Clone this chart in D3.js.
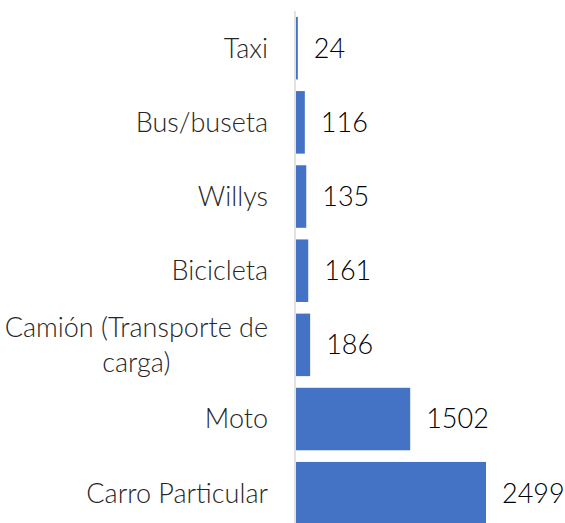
<!DOCTYPE html>
<html>
<head>
<meta charset="utf-8">
<script src="https://cdn.jsdelivr.net/npm/d3@7/dist/d3.min.js"></script>
<style>
  html, body { margin: 0; padding: 0; background: #ffffff; }
  svg { display: block; }
  text { font-family: Lato, "Liberation Sans", sans-serif; font-weight: 300; }
</style>
</head>
<body>
<svg id="chart" width="565" height="523"></svg>
<script>
// Vehículos por tipo (top to bottom)
const categories = ["Taxi", "Bus/buseta", "Willys", "Bicicleta", "Camión (Transporte de carga)", "Moto", "Carro Particular"];
const values = [24, 116, 135, 161, 186, 1502, 2499];
// Category names that wrap onto two lines
const labelLines = [["Taxi"], ["Bus/buseta"], ["Willys"], ["Bicicleta"], ["Camión (Transporte de", "carga)"], ["Moto"], ["Carro Particular"]];

const width = 565, height = 523;
const fontSize = 27;
const barColor = "#4472C4";

const svg = d3.select("#chart");

const x = d3.scaleLinear().domain([0, 2499]).range([296, 486]);
const y = d3.scaleBand()
  .domain(categories)
  .range([11, 530.4])
  .paddingInner(0.157)
  .paddingOuter(0.08);

// bars
svg.append("g").selectAll("rect")
  .data(values)
  .join("rect")
  .attr("x", x(0))
  .attr("y", (d, i) => y(categories[i]))
  .attr("width", d => x(d) - x(0))
  .attr("height", y.bandwidth())
  .attr("fill", barColor);

// vertical category axis line
svg.append("line")
  .attr("x1", 295).attr("x2", 295)
  .attr("y1", 11).attr("y2", height)
  .attr("stroke", "#d9d9d9")
  .attr("stroke-width", 1.5);

// category labels: block right-aligned, lines centred on each other
const labelRight = 268;
const lineGap = 35;
const lg = svg.append("g");
labelLines.forEach((lines, i) => {
  const cy = y(categories[i]) + y.bandwidth() / 2;
  const g = lg.append("g");
  const texts = lines.map((t, j) => g.append("text")
    .attr("y", cy + (j - (lines.length - 1) / 2) * lineGap)
    .attr("dy", "0.35em")
    .attr("font-size", fontSize)
    .attr("fill", "#262626")
    .text(t));
  const widths = texts.map(t => t.node().getComputedTextLength());
  const maxW = Math.max(...widths);
  const centre = labelRight - maxW / 2;
  texts.forEach(t => t.attr("x", centre).attr("text-anchor", "middle"));
});

// value labels
svg.append("g").selectAll("text")
  .data(values)
  .join("text")
  .attr("x", d => x(d) + 16)
  .attr("y", (d, i) => y(categories[i]) + y.bandwidth() / 2)
  .attr("dy", "0.35em")
  .attr("font-size", fontSize)
  .attr("fill", "#000000")
  .text(d => d);
</script>
</body>
</html>
